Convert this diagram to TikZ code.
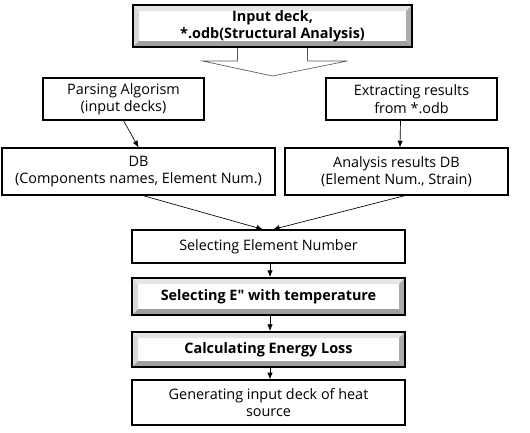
\documentclass[tikz,border=0pt]{standalone}
\usepackage{fontspec}
\setmainfont{Open Sans}
\usetikzlibrary{calc,arrows.meta}
\tikzset{
  box/.style={draw=black, line width=0.9pt, fill=white, align=center, inner sep=1pt, font=\fontsize{10.8}{13}\selectfont},
  bevel/.style={box, line width=1.5pt, font=\fontsize{10.8}{13}\selectfont\bfseries,
    path picture={
      \coordinate (nw) at (path picture bounding box.north west);
      \coordinate (se) at (path picture bounding box.south east);
      \coordinate (ne) at (path picture bounding box.north east);
      \coordinate (sw) at (path picture bounding box.south west);
      \fill[gray!20] (nw) -- (ne) -- ($(ne)+(-4.5pt,-4.5pt)$) -- ($(nw)+(4.5pt,-4.5pt)$) -- cycle;
      \fill[gray!30] (nw) -- ($(nw)+(4.5pt,-4.5pt)$) -- ($(sw)+(4.5pt,4.5pt)$) -- (sw) -- cycle;
      \fill[gray!65] (ne) -- (se) -- ($(se)+(-4.5pt,4.5pt)$) -- ($(ne)+(-4.5pt,-4.5pt)$) -- cycle;
      \fill[gray!75] (sw) -- (se) -- ($(se)+(-4.5pt,4.5pt)$) -- ($(sw)+(4.5pt,4.5pt)$) -- cycle;
    }},
  arr/.style={-{Latex[length=5pt,width=4pt]}, line width=0.5pt},
}
\begin{document}
\begin{tikzpicture}[x=0.75pt,y=-0.75pt]
\useasboundingbox (0,0) rectangle (530,432);
\node[bevel, minimum width={279*0.75pt}, minimum height={42*0.75pt}] (top) at (272.5,26) {Input deck,\\*.odb(Structural Analysis)};
\node[box, minimum width={161*0.75pt}, minimum height={42*0.75pt}] (parse) at (123.5,99) {Parsing Algorism\\(input decks)};
\node[box, minimum width={171*0.75pt}, minimum height={42*0.75pt}] (extract) at (411.5,99) {Extracting results\\from *.odb};
\node[box, minimum width={273*0.75pt}, minimum height={47*0.75pt}] (db) at (138.5,171.5) {DB\\(Components names, Element Num.)};
\node[box, minimum width={223*0.75pt}, minimum height={47*0.75pt}] (adb) at (396.5,171.5) {Analysis results DB\\(Element Num., Strain)};
\node[box, minimum width={273*0.75pt}, minimum height={33*0.75pt}] (sel) at (268.5,246.5) {Selecting Element Number};
\node[bevel, minimum width={273*0.75pt}, minimum height={37*0.75pt}] (sele) at (268.5,296.5) {Selecting E\textquotedbl{} with temperature};
\node[bevel, minimum width={273*0.75pt}, minimum height={35*0.75pt}] (calc) at (268.5,349.5) {Calculating Energy Loss};
\node[box, minimum width={273*0.75pt}, minimum height={45*0.75pt}] (gen) at (268.5,402.5) {Generating input deck of heat\\source};
% block arrow
\draw[gray!70!black, line width=0.5pt, fill=white]
  ($(top.south)+(-35,0)$) -- ++(0,13) -- ++(-35,0) -- ($(top.south)+(0,28)$)
  -- ($(top.south)+(75,13)$) -- ++(-40,0) -- ($(top.south)+(35,0)$);
% connectors
\draw[arr] (parse.south) -- (db.north);
\draw[arr] ($(extract.south)+(-11,0)$) -- ($(adb.north)+(3.5,0)$);
\draw[arr] ($(db.south)+(4.5,0)$) -- ($(sel.north)+(-5.5,0)$);
\draw[arr] ($(adb.south)+(8.5,0)$) -- ($(sel.north)+(4.5,0)$);
\draw[arr] ($(sel.south)+(1.5,0)$) -- ($(sele.north)+(1.5,0)$);
\draw[arr] ($(sele.south)+(1.5,0)$) -- ($(calc.north)+(1.5,0)$);
\draw[arr] ($(calc.south)+(1.5,0)$) -- ($(gen.north)+(1.5,0)$);
\end{tikzpicture}
\end{document}
